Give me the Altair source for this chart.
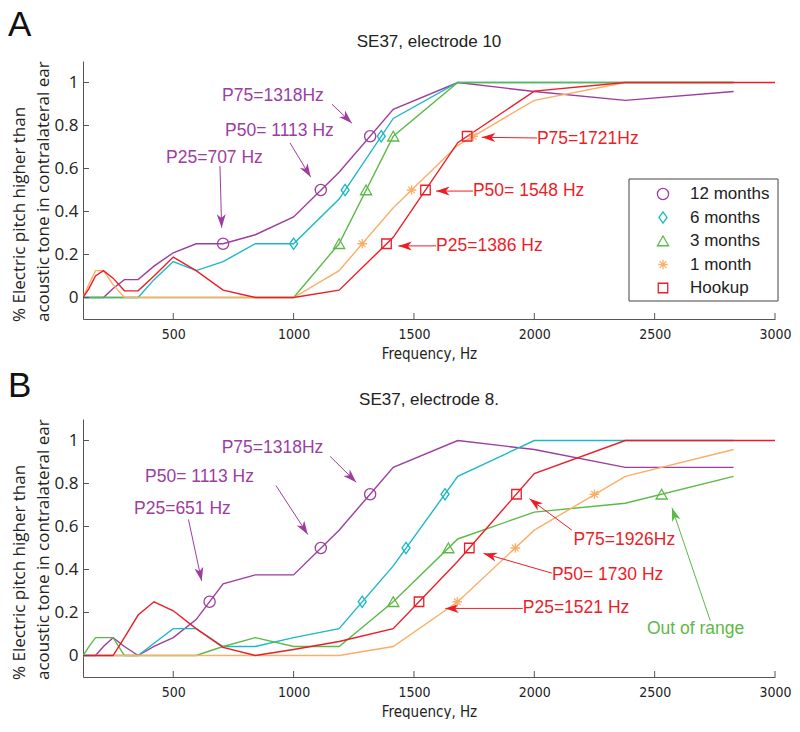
import math
import altair as alt
import pandas as pd

# ---------------- data ----------------
FREQS = [125, 149, 177, 210, 250, 297, 354, 420, 500, 595, 707, 841, 1000,
         1189, 1414, 1682, 2000, 2378, 2828, 3364]
SERIES = ["12 months", "6 months", "3 months", "1 month", "Hookup"]
COLORS = ["#9D3D9F", "#1CB8C6", "#5DB947", "#FBAE66", "#EC1D27"]

# Panel A (electrode 10)
A_12M = [0, 0, 0, 0, 0.042, 0.083, 0.083, 0.146, 0.208, 0.25, 0.25, 0.292, 0.375, 0.583, 0.875, 1.0, 0.958, 0.917, 0.958, None]
A_6M = [0, 0, 0, 0, 0, 0, 0, 0.083, 0.167, 0.125, 0.167, 0.25, 0.25, 0.458, 0.833, 1.0, 1.0, 1.0, 1.0, None]
A_3M = [0, 0, 0, 0, 0, 0, 0, 0, 0, 0, 0, 0, 0, 0.25, 0.75, 1.0, 1.0, 1.0, 1.0, None]
A_1M = [0, 0.06, 0.125, 0.125, 0.06, 0, 0, 0, 0, 0, 0, 0, 0, 0.125, 0.417, 0.708, 0.917, 1.0, 1.0, None]
A_HK = [0, 0.04, 0.1, 0.125, 0.09, 0.031, 0.031, 0.1, 0.188, 0.125, 0.034, 0, 0, 0.034, 0.28, 0.72, 0.96, 1.0, 1.0, 1.0]

# Panel B (electrode 8)
B_12M = [0, 0, 0, 0.042, 0.083, 0.042, 0, 0.042, 0.083, 0.167, 0.333, 0.375, 0.375, 0.583, 0.875, 1.0, 0.958, 0.875, 0.875, None]
B_6M = [0, 0, 0, 0, 0, 0, 0, 0.057, 0.125, 0.125, 0.042, 0.042, 0.083, 0.125, 0.417, 0.833, 1.0, 1.0, 1.0, None]
B_3M = [0, 0.04, 0.083, 0.083, 0.083, 0, 0, 0, 0, 0, 0.042, 0.083, 0.042, 0.042, 0.25, 0.542, 0.667, 0.708, 0.833, None]
B_1M = [0, 0, 0, 0, 0, 0, 0, 0, 0, 0, 0, 0, 0, 0, 0.042, 0.25, 0.583, 0.833, 0.958, None]
B_HK = [0, 0, 0, 0, 0, 0.083, 0.188, 0.25, 0.208, 0.125, 0.038, 0, 0.028, 0.065, 0.125, 0.438, 0.846, 1.0, 1.0, 1.0]

# P25 / P50 / P75 markers (frequency at which each level is reached)
LEVELS = [0.25, 0.5, 0.75]
A_P_12M = [707, 1113, 1318]
A_P_6M = [1000, 1214, 1364]
A_P_3M = [1189, 1301, 1414]
A_P_1M = [1285, 1490, 1746]
A_P_HK = [1386, 1548, 1721]
B_P_12M = [651, 1113, 1318]
B_P_6M = [1285, 1467, 1629]
B_P_3M = [1414, 1643, 2529]
B_P_1M = [1680, 1921, 2250]
B_P_HK = [1521, 1730, 1926]

# annotations: text, anchor frequency, anchor value, colour index
A_NOTE_TEXT = ["P75=1318Hz", "P50= 1113 Hz", "P25=707 Hz", "P75=1721Hz", "P50= 1548 Hz", "P25=1386 Hz"]
A_NOTE_F = [703, 715, 470, 2011, 1745, 1592]
A_NOTE_V = [0.935, 0.773, 0.649, 0.739, 0.495, 0.24]
A_NOTE_C = [0, 0, 0, 4, 4, 4]
A_ARROW_TAIL_F = [1159, 985, 694, 2011, 1745, 1592]
A_ARROW_TAIL_V = [0.899, 0.719, 0.611, 0.742, 0.495, 0.24]
A_ARROW_HEAD_F = [1242, 1071, 701, 1782, 1592, 1435]
A_ARROW_HEAD_V = [0.811, 0.56, 0.325, 0.745, 0.495, 0.24]

B_NOTE_TEXT = ["P75=1318Hz", "P50= 1113 Hz", "P25=651 Hz", "P75=1926Hz", "P50= 1730 Hz", "P25=1521 Hz", "Out of range"]
B_NOTE_F = [701, 383, 337, 2163, 2073, 1952, 2468]
B_NOTE_V = [0.965, 0.83, 0.682, 0.537, 0.375, 0.219, 0.124]
B_NOTE_C = [0, 0, 0, 4, 4, 4, 2]
B_ARROW_TAIL_F = [1152, 927, 563, 2156, 2073, 1952, 2731]
B_ARROW_TAIL_V = [0.926, 0.79, 0.633, 0.583, 0.383, 0.219, 0.162]
B_ARROW_HEAD_F = [1260, 1059, 618, 1980, 1789, 1630, 2572]
B_ARROW_HEAD_V = [0.806, 0.563, 0.347, 0.729, 0.475, 0.219, 0.687]

XTICKS = [500, 1000, 1500, 2000, 2500, 3000]
YTICKS = [0, 0.2, 0.4, 0.6, 0.8, 1]
Y_TITLE = ["% Electric pitch higher than", "acoustic tone in contralateral ear"]

# ---------------- layout / style ----------------
W, H = 692, 258
XMIN, XMAX = 125, 3000
YMIN, YMAX = -0.1, 1.1
SX = W / (XMAX - XMIN)
SY = H / (YMAX - YMIN)
AXIS_COLOR = "#555555"
TEXT_COLOR = "#222222"
COND_FONT = "DejaVu Sans Condensed, Roboto, Liberation Sans"

SHAPES = [
    "circle",
    "M0,-1L0.72,0L0,1L-0.72,0Z",
    "M0,-0.9L1,0.85L-1,0.85Z",
    "M0,-0.85L0,0.85M-0.85,0L0.85,0M-0.6,-0.6L0.6,0.6M-0.6,0.6L0.6,-0.6",
    "M-0.85,-0.85L0.85,-0.85L0.85,0.85L-0.85,0.85Z",
]
ARROW_PATH = "M0,0L0.6,1.8L0,1.3L-0.6,1.8Z"

# legend box placement (pixels, relative to panel A plot area)
LEG_X0, LEG_X1, LEG_Y0, LEG_Y1 = 546, 695, 118, 240
LEG_SYM_X, LEG_TXT_X, LEG_ROW0, LEG_ROW_STEP = 580, 607, 133, 23.5

xscale = alt.Scale(domain=[XMIN, XMAX], nice=False, zero=False)
yscale = alt.Scale(domain=[YMIN, YMAX], nice=False, zero=False)
color_scale = alt.Scale(domain=SERIES, range=COLORS)
shape_scale = alt.Scale(domain=SERIES, range=SHAPES)


def legend_layers():
    one = pd.DataFrame({"k": [0]})
    layers = [alt.Chart(one).mark_rect(fill="white", stroke="#444444",
                                       strokeWidth=1).encode(
        x=alt.value(LEG_X0), x2=alt.value(LEG_X1),
        y=alt.value(LEG_Y0), y2=alt.value(LEG_Y1))]
    for i, name in enumerate(SERIES):
        d = pd.DataFrame({"series": [name]})
        yy = LEG_ROW0 + i * LEG_ROW_STEP
        layers.append(alt.Chart(d).mark_point(
            filled=False, size=125, strokeWidth=1.3, opacity=1,
            shape=SHAPES[i], color=COLORS[i]).encode(
            x=alt.value(LEG_SYM_X), y=alt.value(yy)))
        layers.append(alt.Chart(d).mark_text(
            align="left", baseline="middle", font="Liberation Sans", fontSize=17,
            color=TEXT_COLOR).encode(
            x=alt.value(LEG_TXT_X), y=alt.value(yy), text="series:N"))
    return layers


def panel(curves, pcts, notes, arrows, title_text, letter, letter_y, with_legend):
    rows = []
    for name, vals in zip(SERIES, curves):
        for f, v in zip(FREQS, vals):
            if v is not None:
                rows.append({"series": name, "freq": f, "value": v})
    line_df = pd.DataFrame(rows)

    mrows = []
    for name, fs in zip(SERIES, pcts):
        for f, lv in zip(fs, LEVELS):
            mrows.append({"series": name, "freq": f, "value": lv})
    mark_df = pd.DataFrame(mrows)

    texts, fx, vy, cidx = notes
    note_df = pd.DataFrame({"label": texts, "freq": fx, "value": vy,
                            "col": [COLORS[i] for i in cidx]})
    tf, tv, hf, hv = arrows
    angles = []
    for a, b, c, d in zip(tf, tv, hf, hv):
        dx = (c - a) * SX
        dy = -(d - b) * SY
        angles.append(math.degrees(math.atan2(dx, -dy)) % 360)
    arrow_df = pd.DataFrame({"freq": tf, "value": tv, "freq2": hf, "value2": hv,
                             "col": [COLORS[i] for i in cidx]})
    head_df = pd.DataFrame({"freq": hf, "value": hv, "angle": angles,
                            "col": [COLORS[i] for i in cidx]})

    xaxis = alt.Axis(values=XTICKS, title="Frequency, Hz", ticks=False, tickSize=0,
                     grid=False, domainColor=AXIS_COLOR, domainWidth=1,
                     labelFont=COND_FONT, labelFontSize=14, labelFlush=False,
                     labelColor=TEXT_COLOR, labelPadding=8, format="d",
                     titleFont=COND_FONT, titleFontSize=15,
                     titleFontWeight="normal", titleColor=TEXT_COLOR, titlePadding=5)
    yaxis = alt.Axis(values=YTICKS, title=None,
                     ticks=False, tickSize=0, grid=False, domainColor=AXIS_COLOR,
                     domainWidth=1, labelFont="Open Sans", labelFontSize=17,
                     labelColor=TEXT_COLOR, labelPadding=5, format="~g",
                     labelFlush=False)

    base_x = alt.X("freq:Q", scale=xscale, axis=xaxis)
    base_y = alt.Y("value:Q", scale=yscale, axis=yaxis)

    lines = alt.Chart(line_df).mark_line(strokeWidth=1.4, clip=True).encode(
        x=base_x, y=base_y,
        stroke=alt.Stroke("series:N", scale=color_scale, legend=None),
        order=alt.Order("freq:Q"),
    )

    markers = alt.Chart(mark_df).mark_point(filled=False, size=125, strokeWidth=1.3,
                                            opacity=1).encode(
        x="freq:Q", y="value:Q",
        color=alt.Color("series:N", scale=color_scale, legend=None),
        shape=alt.Shape("series:N", scale=shape_scale, legend=None),
    )

    xt = alt.Chart(pd.DataFrame({"freq": XTICKS})).mark_rule(
        color=AXIS_COLOR, strokeWidth=1).encode(
        x="freq:Q", y=alt.value(H), y2=alt.value(H - 6))
    yt = alt.Chart(pd.DataFrame({"value": YTICKS})).mark_rule(
        color=AXIS_COLOR, strokeWidth=1).encode(
        y="value:Q", x=alt.value(0), x2=alt.value(6))

    arrow_lines = alt.Chart(arrow_df).mark_rule(strokeWidth=1).encode(
        x="freq:Q", y="value:Q", x2="freq2:Q", y2="value2:Q",
        stroke=alt.Stroke("col:N", scale=None))
    heads = alt.Chart(head_df).mark_point(shape=ARROW_PATH, filled=True, size=225,
                                          opacity=1, strokeWidth=0).encode(
        x="freq:Q", y="value:Q",
        angle=alt.Angle("angle:Q", scale=None),
        fill=alt.Fill("col:N", scale=None))
    note_text = alt.Chart(note_df).mark_text(align="left", baseline="middle",
                                             font="Liberation Sans", fontSize=17.5).encode(
        x="freq:Q", y="value:Q", text="label:N",
        fill=alt.Fill("col:N", scale=None))

    head_title = alt.Chart(pd.DataFrame({"t": [title_text]})).mark_text(
        align="center", baseline="alphabetic", font="Liberation Sans", fontSize=17,
        color=TEXT_COLOR).encode(x=alt.value(W / 2), y=alt.value(-14), text="t:N")
    letter_mark = alt.Chart(pd.DataFrame({"t": [letter]})).mark_text(
        align="left", baseline="alphabetic", font="Liberation Sans", fontSize=35,
        color="#111111").encode(x=alt.value(-75), y=alt.value(letter_y), text="t:N")
    ytitle1 = alt.Chart(pd.DataFrame({"t": [Y_TITLE[0]]})).mark_text(
        align="left", baseline="middle", angle=270, font="Open Sans", fontSize=17,
        color=TEXT_COLOR).encode(x=alt.value(-63), y=alt.value(H + 3), text="t:N")
    ytitle2 = alt.Chart(pd.DataFrame({"t": [Y_TITLE[1]]})).mark_text(
        align="left", baseline="middle", angle=270, font="Open Sans", fontSize=17,
        color=TEXT_COLOR).encode(x=alt.value(-39), y=alt.value(H + 3), text="t:N")

    layers = [lines, xt, yt, arrow_lines, heads, note_text, markers,
              head_title, letter_mark, ytitle1, ytitle2]
    if with_legend:
        layers += legend_layers()
    return alt.layer(*layers).properties(width=W, height=H)


pA = panel([A_12M, A_6M, A_3M, A_1M, A_HK],
           [A_P_12M, A_P_6M, A_P_3M, A_P_1M, A_P_HK],
           (A_NOTE_TEXT, A_NOTE_F, A_NOTE_V, A_NOTE_C),
           (A_ARROW_TAIL_F, A_ARROW_TAIL_V, A_ARROW_HEAD_F, A_ARROW_HEAD_V),
           "SE37, electrode 10", "A", -25, True)
pB = panel([B_12M, B_6M, B_3M, B_1M, B_HK],
           [B_P_12M, B_P_6M, B_P_3M, B_P_1M, B_P_HK],
           (B_NOTE_TEXT, B_NOTE_F, B_NOTE_V, B_NOTE_C),
           (B_ARROW_TAIL_F, B_ARROW_TAIL_V, B_ARROW_HEAD_F, B_ARROW_HEAD_V),
           "SE37, electrode 8.", "B", -22, False)

chart = alt.vconcat(pA, pB, spacing=8).resolve_scale(
    color="independent", shape="independent", stroke="independent"
).properties(
    padding={"left": 0, "top": 0, "right": 0, "bottom": 0},
    background="white",
).configure_view(stroke=None)

chart.save("out.html", embed_options={"renderer": "svg", "actions": False})
